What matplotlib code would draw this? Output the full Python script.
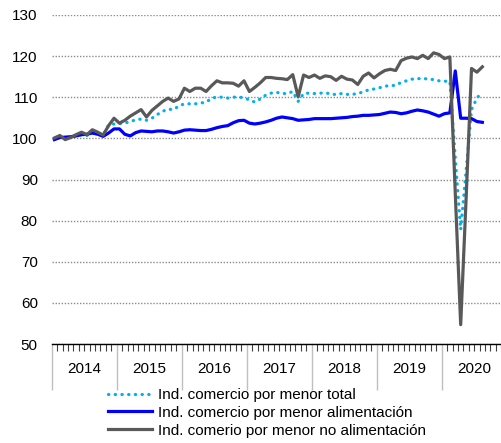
import numpy as np
import matplotlib
matplotlib.use("Agg")
import matplotlib.pyplot as plt
from matplotlib.transforms import blended_transform_factory

plt.rcParams['font.family'] = ['Liberation Sans', 'DejaVu Sans']

# monthly index values, Jan 2014 - Aug 2020
years = ["2014", "2015", "2016", "2017", "2018", "2019", "2020"]

total = [
    99.8, 100.3, 100.0, 100.3, 100.6, 100.9, 100.7, 101.4, 101.2, 100.8, 103.2, 103.5,
    103.6, 103.7, 104.1, 104.5, 104.7, 104.4, 104.9, 105.8, 106.6, 107.1, 107.0, 107.9,
    108.4, 108.4, 108.4, 108.6, 108.8, 109.7, 110.1, 110.0, 109.8, 110.0, 110.1, 109.8,
    109.4, 108.8, 109.6, 110.5, 111.0, 111.2, 110.9, 110.9, 111.4, 109.0, 110.9, 111.0,
    110.9, 111.0, 111.0, 110.9, 110.6, 110.9, 110.7, 110.7, 110.9, 111.3, 111.8, 112.0,
    112.3, 112.7, 112.8, 112.9, 113.6, 114.0, 114.4, 114.5, 114.6, 114.4, 114.3, 114.0,
    113.9, 113.9, 95.3, 77.8, 92.1, 107.0, 109.8, 111.3,
]

alimentacion = [
    99.7, 100.2, 100.3, 100.4, 100.6, 100.9, 101.0, 101.3, 101.0, 100.5, 101.3, 102.3,
    102.3, 101.0, 100.6, 101.4, 101.8, 101.7, 101.6, 101.8, 101.8, 101.6, 101.3, 101.6,
    102.0, 102.1, 102.0, 101.9, 101.9, 102.2, 102.6, 102.9, 103.1, 103.8, 104.3, 104.4,
    103.7, 103.5, 103.7, 104.0, 104.4, 104.9, 105.2, 105.0, 104.8, 104.4, 104.5, 104.6,
    104.8, 104.8, 104.8, 104.8, 104.9, 105.0, 105.1, 105.3, 105.4, 105.6, 105.6, 105.7,
    105.8, 106.1, 106.4, 106.3, 106.0, 106.2, 106.6, 106.9, 106.7, 106.4, 105.9, 105.4,
    106.0, 106.2, 116.4, 104.9, 104.9, 104.8, 104.1, 103.9,
]

no_alimentacion = [
    100.1, 100.7, 99.7, 100.2, 100.9, 101.5, 100.9, 102.1, 101.5, 100.8, 103.1, 104.9,
    103.7, 104.4, 105.4, 106.2, 107.0, 105.2, 106.8, 107.9, 109.0, 109.8, 109.0, 109.6,
    112.2, 111.4, 112.2, 112.2, 111.4, 112.8, 114.0, 113.5, 113.5, 113.4, 112.7, 114.0,
    111.4, 112.4, 113.5, 114.8, 114.8, 114.6, 114.5, 114.3, 115.5, 110.1, 115.4, 114.8,
    115.4, 114.6, 115.2, 115.0, 114.1, 115.1, 114.4, 114.2, 113.1, 115.1, 115.9, 114.7,
    115.7, 116.5, 116.8, 116.5, 118.9, 119.5, 119.8, 119.4, 120.2, 119.4, 120.8, 120.4,
    119.4, 119.8, 86.7, 54.7, 85.3, 117.0, 116.1, 117.4,
]

labels = ["Ind. comercio por menor total",
          "Ind. comercio por menor alimentación",
          "Ind. comerio por menor no alimentación"]

x = np.arange(len(total)) + 0.5

fig = plt.figure(figsize=(5.02, 4.43), dpi=100)
ax = fig.add_axes([51.7 / 502, 99 / 443, 84 * 5.417 / 502, 329 / 443])

ax.plot(x, total, color='#00B0F0', lw=2.3, linestyle=(0, (0.1, 2.0)),
        dash_capstyle='round', label=labels[0])
ax.plot(x, alimentacion, color='#0000FF', lw=2.3, label=labels[1])
ax.plot(x, no_alimentacion, color='#595959', lw=2.3, label=labels[2])

ax.set_xlim(0, 84)
ax.set_ylim(50, 130)
ax.set_yticks(np.arange(50, 131, 10))
ax.tick_params(axis='y', length=0, pad=10, labelsize=11)
ax.grid(axis='y', color='#8c8c8c', linestyle=(0, (1, 1.2)), lw=1.0)
ax.set_axisbelow(True)

for s in ['left', 'right', 'top']:
    ax.spines[s].set_visible(False)
ax.spines['bottom'].set_color('black')
ax.spines['bottom'].set_linewidth(1.0)

# months: short ticks, years: long gray separators
ax.set_xticks(np.arange(0, 85, 12))
ax.set_xticklabels([])
ax.set_xticks(np.arange(0, 85), minor=True)
ax.tick_params(axis='x', which='major', length=33, color='#bfbfbf', width=1.0)
ax.tick_params(axis='x', which='minor', length=5, color='#404040', width=0.8)

trans = blended_transform_factory(ax.transData, ax.transAxes)
for k, yr in enumerate(years):
    ax.text(12 * k + 6, -0.075, yr, transform=trans, ha='center', va='center',
            fontsize=11)

fig.legend(loc='upper left', bbox_to_anchor=(108 / 502, 1 - 388 / 443),
           frameon=False, fontsize=11, handlelength=2.9, handletextpad=0.35,
           labelspacing=0.25, borderaxespad=0, borderpad=0)

fig.savefig('out.png', dpi=100)
